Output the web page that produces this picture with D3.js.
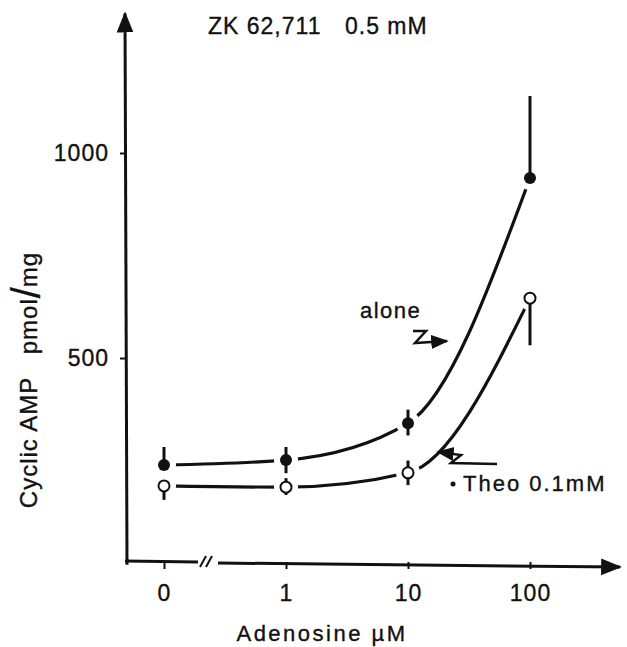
<!DOCTYPE html>
<html><head><meta charset="utf-8">
<script src="https://cdn.jsdelivr.net/npm/d3@7/dist/d3.min.js"></script>
<style>
html,body{margin:0;padding:0;background:#fff;}
text{font-family:"Liberation Sans",Arial,sans-serif;fill:#111;stroke:#111;stroke-width:0.35px;white-space:pre;}
</style></head>
<body>
<svg id="c" width="627" height="647"></svg>
<script>
const categories = ["0", "1", "10", "100"];
const aloneValues = [239, 251, 341, 939];
const aloneErrUp = [44, 32, 33, 200];
const aloneErrDown = [0, 32, 30, 0];
const theoValues = [188, 185, 220, 646];
const theoErrUp = [0, 22, 30, 0];
const theoErrDown = [34, 19, 30, 115];
const yTicks = [500, 1000];

const svg = d3.select("#c");
const ink = "#111";
const FF = "Liberation Sans, Arial, sans-serif";
const x = d3.scalePoint().domain(categories).range([164, 530]);
const y = d3.scaleLinear().domain([0, 1000]).range([563, 153]);

svg.append("defs").append("marker")
  .attr("id","ah").attr("viewBox","0 0 10 10").attr("refX",9).attr("refY",5)
  .attr("markerWidth",7).attr("markerHeight",7).attr("orient","auto-start-reverse")
  .append("path").attr("d","M0,1 L10,5 L0,9 Z").attr("fill",ink);

// Y axis line
svg.append("line").attr("x1",127).attr("y1",y(-4)).attr("x2",125).attr("y2",y(1340))
  .attr("stroke",ink).attr("stroke-width",3).attr("marker-end","url(#ah)");
const yAx = svg.append("g").attr("transform","translate(127,0)")
  .call(d3.axisLeft(y).tickValues(yTicks).tickSize(7).tickFormat(d3.format("d")));
yAx.select(".domain").remove();
yAx.selectAll("line").attr("stroke",ink).attr("stroke-width",2);
yAx.selectAll("text").attr("font-size",23).attr("letter-spacing",1).attr("x",-18)
  .style("font-family",FF).attr("fill",ink);

// X axis
const x0 = y(0) - 2;
svg.append("line").attr("x1",125).attr("y1",x0).attr("x2",198).attr("y2",x0+1)
  .attr("stroke",ink).attr("stroke-width",3);
svg.append("line").attr("x1",218).attr("y1",x0+2).attr("x2",620).attr("y2",x0+6)
  .attr("stroke",ink).attr("stroke-width",3).attr("marker-end","url(#ah)");
[0,6].forEach(o=>{
  svg.append("line").attr("x1",200+o).attr("y1",x0+6).attr("x2",206+o).attr("y2",x0-5)
    .attr("stroke",ink).attr("stroke-width",2);
});
const xAx = svg.append("g").attr("transform",`translate(0,${x0+1})`)
  .call(d3.axisBottom(x).tickSize(7).tickPadding(16));
xAx.select(".domain").remove();
xAx.selectAll("line").attr("stroke",ink).attr("stroke-width",2);
xAx.selectAll("text").attr("font-size",23).attr("letter-spacing",1)
  .style("font-family",FF).attr("fill",ink);

// axis titles
svg.append("text").attr("x",322).attr("y",641).attr("text-anchor","middle")
  .attr("font-size",22).attr("letter-spacing",2.5).text("Adenosine µM");
const yl = svg.append("text").attr("transform","translate(37,380) rotate(-90)").attr("text-anchor","middle")
  .attr("font-size",24).attr("letter-spacing",1);
yl.append("tspan").text("Cyclic AMP   pmol");
yl.append("tspan").attr("font-size",40).attr("dy",3).attr("letter-spacing",0).text("/");
yl.append("tspan").attr("dy",-3).text("mg");
svg.append("text").attr("x",208).attr("y",34).attr("font-size",23).attr("letter-spacing",1).text("ZK 62,711");
svg.append("text").attr("x",345).attr("y",34).attr("font-size",23).attr("letter-spacing",1).text("0.5 mM");

// curves
const line = d3.line().x((d,i)=>x(categories[i])).y(d=>y(d)).curve(d3.curveMonotoneX);
svg.append("path").attr("d",line(aloneValues)).attr("fill","none").attr("stroke",ink).attr("stroke-width",3.2);
svg.append("path").attr("d",line(theoValues)).attr("fill","none").attr("stroke",ink).attr("stroke-width",3.2);

function series(vals, up, down, filled){
  const g = svg.append("g");
  g.selectAll("circle.halo").data(vals).join("circle")
    .attr("cx",(d,i)=>x(categories[i])).attr("cy",d=>y(d)).attr("r",12).attr("fill","#fff");
  g.selectAll("line.eb").data(vals).join("line")
    .attr("x1",(d,i)=>x(categories[i])).attr("x2",(d,i)=>x(categories[i]))
    .attr("y1",(d,i)=>y(d+up[i])).attr("y2",(d,i)=>y(d-down[i]))
    .attr("stroke",ink).attr("stroke-width",3);
  g.selectAll("circle.pt").data(vals).join("circle")
    .attr("cx",(d,i)=>x(categories[i])).attr("cy",d=>y(d)).attr("r",filled?6:5.5)
    .attr("fill",filled?ink:"#fff").attr("stroke",ink).attr("stroke-width",filled?0:2);
}
series(aloneValues, aloneErrUp, aloneErrDown, true);
series(theoValues, theoErrUp, theoErrDown, false);

// labels and squiggle arrows
svg.append("text").attr("x",360).attr("y",318).attr("font-size",22).attr("letter-spacing",1.5).text("alone");
svg.append("path").attr("d","M413,331 L426,331 L415,343 L447,341")
  .attr("fill","none").attr("stroke",ink).attr("stroke-width",2.5).attr("marker-end","url(#ah)");
svg.append("path").attr("d","M497,464 L451,463 L461,455 L438,452")
  .attr("fill","none").attr("stroke",ink).attr("stroke-width",2.5).attr("marker-end","url(#ah)");
svg.append("circle").attr("cx",453).attr("cy",484).attr("r",2.5).attr("fill",ink);
svg.append("text").attr("x",463).attr("y",491).attr("font-size",22).attr("letter-spacing",2).text("Theo 0.1mM");
</script>
</body></html>
